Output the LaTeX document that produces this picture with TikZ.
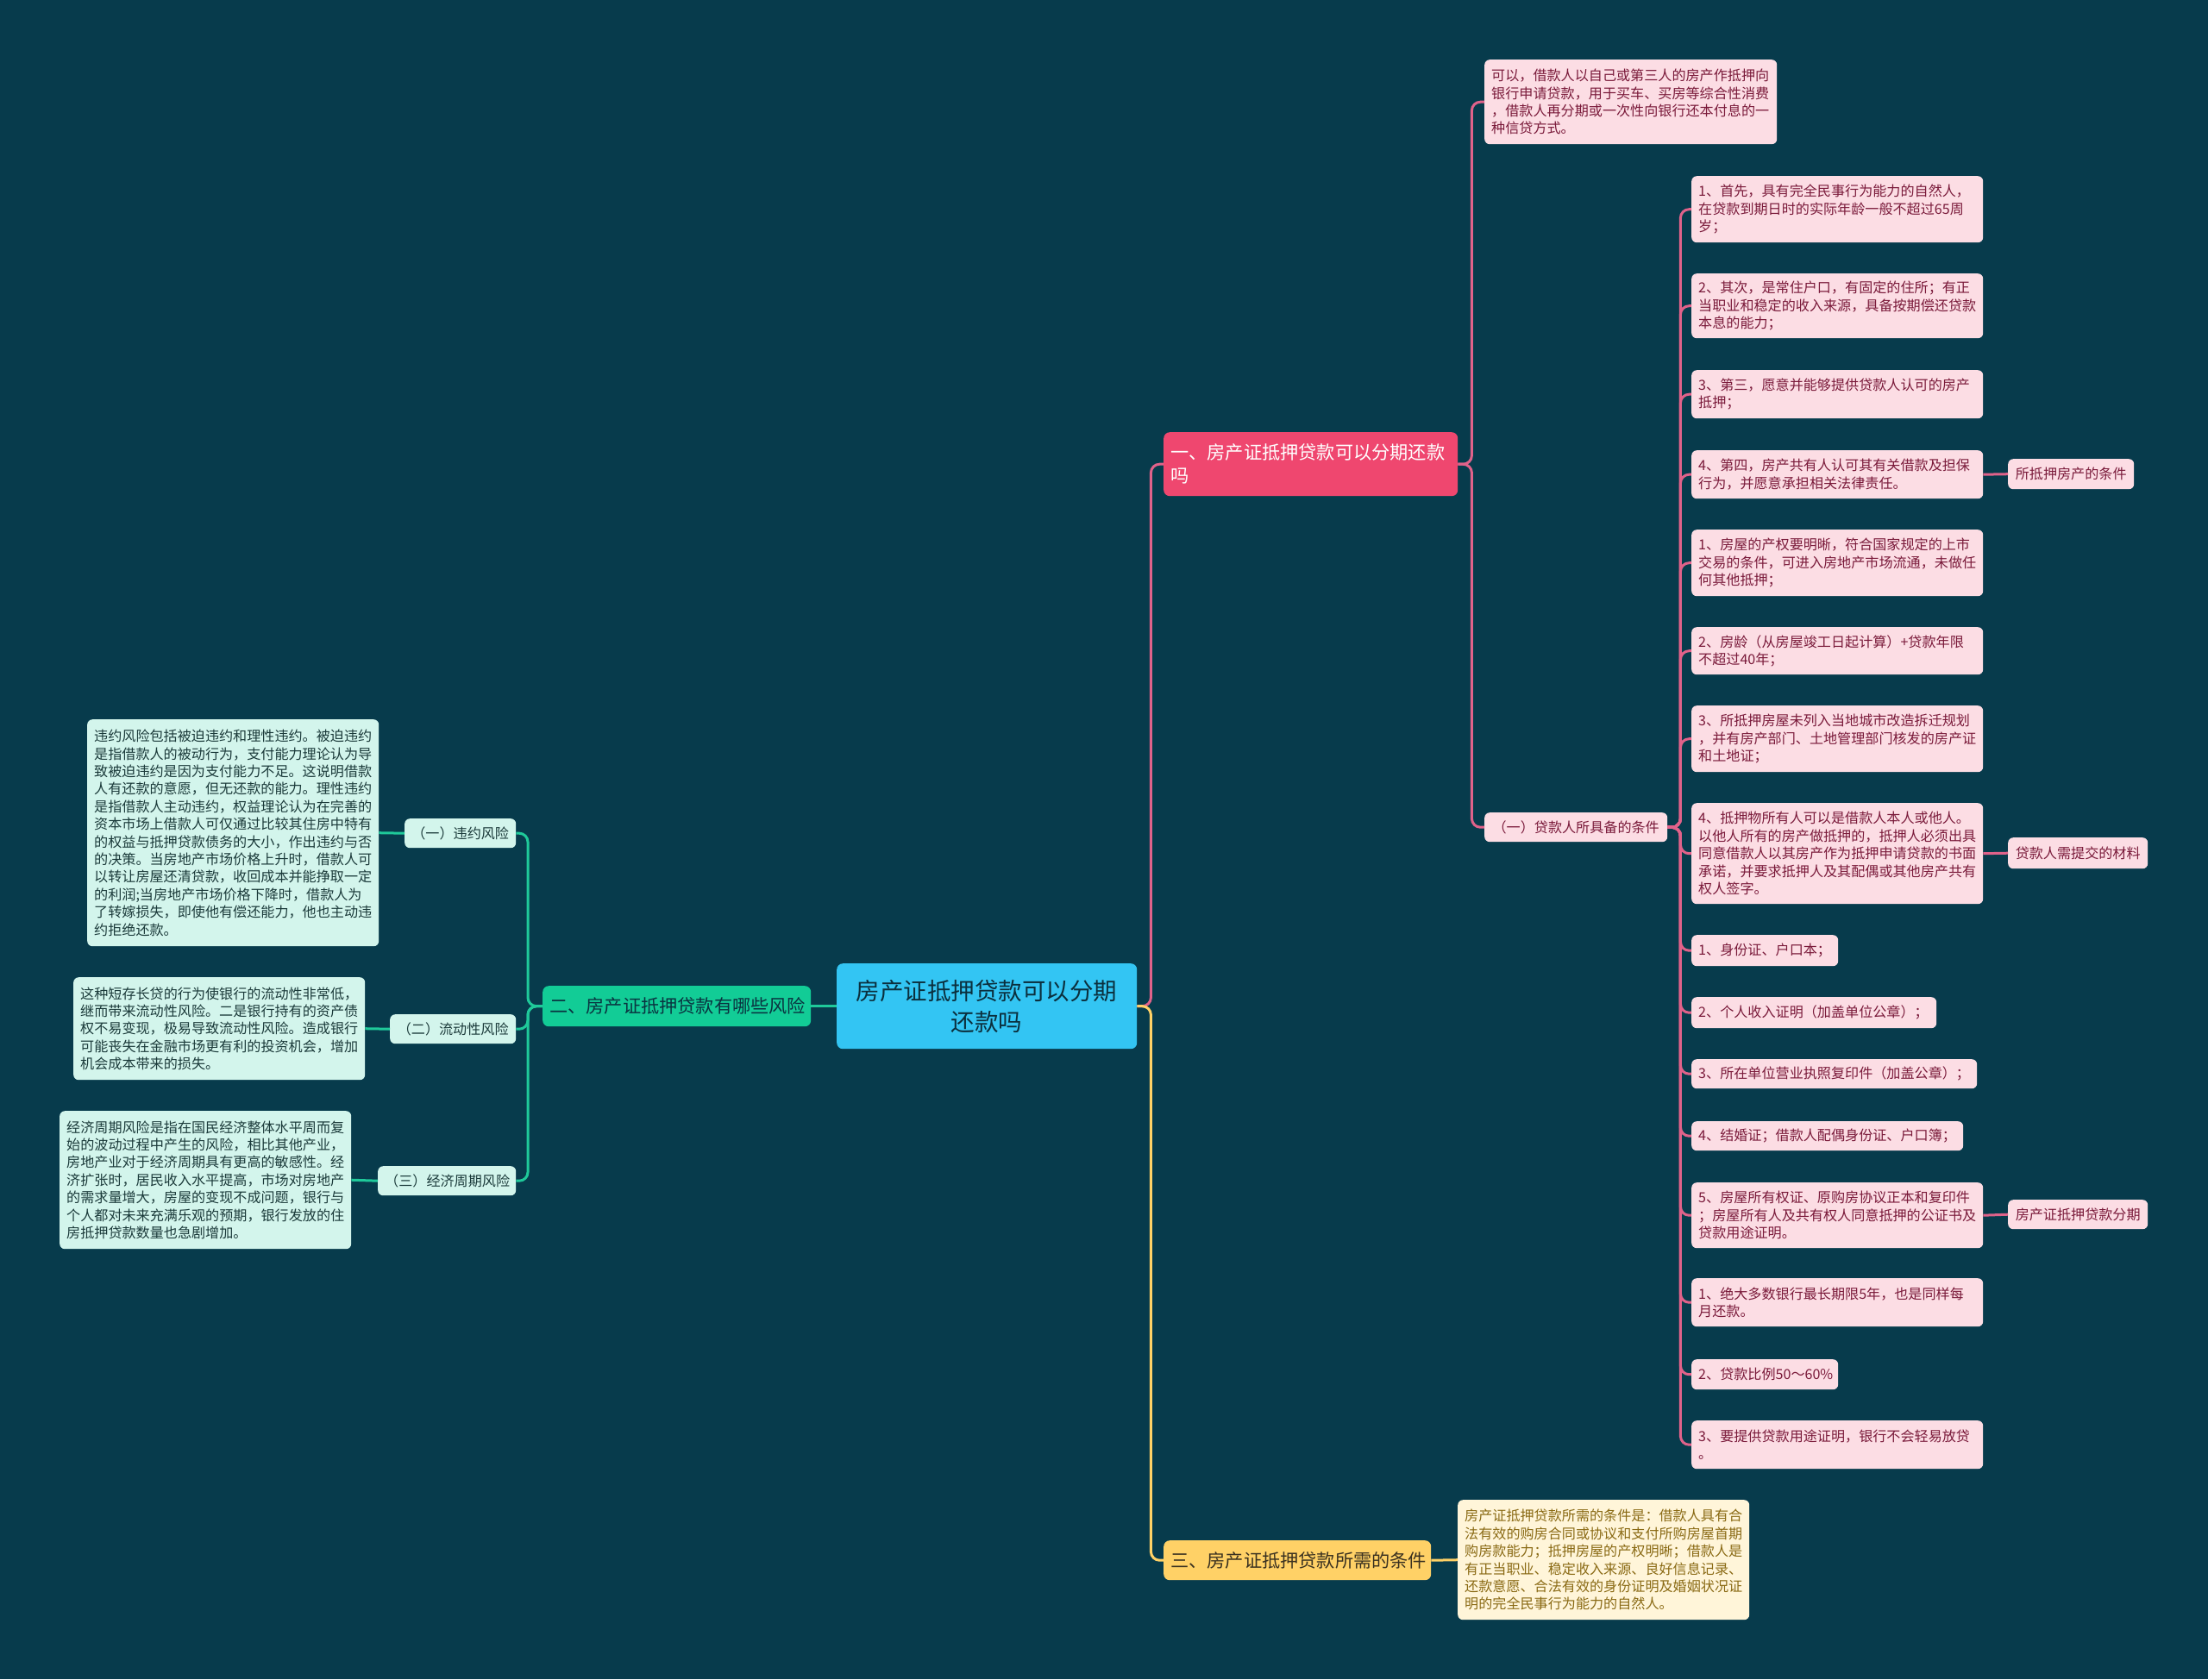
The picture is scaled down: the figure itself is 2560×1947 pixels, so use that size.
\documentclass[tikz,border=0pt]{standalone}
\usepackage{fontspec}
\setmainfont{Noto Sans CJK SC}
\definecolor{bg}{HTML}{073B4C}
\definecolor{centerfill}{HTML}{33C5F3}
\definecolor{centertext}{HTML}{0B2F3D}
\definecolor{redfill}{HTML}{EF476F}
\definecolor{greenfill}{HTML}{12CC96}
\definecolor{greentextdark}{HTML}{0A3340}
\definecolor{yellowfill}{HTML}{FFD166}
\definecolor{yellowtextdark}{HTML}{3A3120}
\definecolor{pinkfill}{HTML}{FCDDE4}
\definecolor{pinktext}{HTML}{7A1A3A}
\definecolor{mintfill}{HTML}{D3F5EC}
\definecolor{minttext}{HTML}{1B3A3A}
\definecolor{creamfill}{HTML}{FFF5D9}
\definecolor{creamtext}{HTML}{8A6A14}
\definecolor{pinkline}{HTML}{E0628A}
\definecolor{greenline}{HTML}{1FC99A}
\definecolor{yellowline}{HTML}{FFD166}
\tikzset{
  boxbase/.style={rounded corners=6pt, inner xsep=8pt, inner ysep=0pt, align=left,
    font=\fontsize{16.1}{20.4}\selectfont},
  pinkbox/.style={boxbase, fill=pinkfill, text=pinktext},
  pinklabel/.style={pinkbox, align=center},
  mintbox/.style={boxbase, fill=mintfill, text=minttext},
  mintlabel/.style={mintbox, align=center},
  creambox/.style={boxbase, fill=creamfill, text=creamtext},
  centerbox/.style={rounded corners=7pt, inner xsep=8pt, inner ysep=0pt, align=center,
    fill=centerfill, text=centertext, font=\fontsize{27.5}{36}\selectfont},
  branchbase/.style={rounded corners=7pt, inner xsep=8pt, inner ysep=0pt, align=left,
    font=\fontsize{21.2}{27}\selectfont},
  redbranch/.style={branchbase, fill=redfill, text=white},
  greenbranch/.style={branchbase, fill=greenfill, text=greentextdark},
  yellowbranch/.style={branchbase, fill=yellowfill, text=yellowtextdark},
  pinkconn/.style={draw=pinkline, line width=3pt, rounded corners=10pt},
  greenconn/.style={draw=greenline, line width=3pt, rounded corners=10pt},
  yellowconn/.style={draw=yellowline, line width=3pt, rounded corners=10pt},
}
\newcommand\mmbox[7]{%
  \pgfmathsetmacro\mmw{#5-#3-16}%
  \pgfmathsetmacro\mmh{#6-#4}%
  \node[#2, anchor=north west, text width=\mmw pt, minimum height=\mmh pt] (#1) at (#3,#4) {#7};%
}
\begin{document}
\begin{tikzpicture}[x=1pt,y=-1pt]
\fill[bg] (0,0) rectangle (2560,1947);
\useasboundingbox (0,0) rectangle (2560,1947);

% center and branches
\mmbox{c}{centerbox}{970}{1117}{1318}{1216}{房产证抵押贷款可以分期\\还款吗}
\mmbox{b1}{redbranch}{1349}{501}{1690}{575}{一、房产证抵押贷款可以分期还款\\吗}
\mmbox{b2}{greenbranch}{629}{1143}{940}{1190}{二、房产证抵押贷款有哪些风险}
\mmbox{b3}{yellowbranch}{1349}{1786}{1659}{1832}{三、房产证抵押贷款所需的条件}

% branch 1 children
\mmbox{top}{pinkbox}{1721}{69}{2060}{167}{可以，借款人以自己或第三人的房产作抵押向\\银行申请贷款，用于买车、买房等综合性消费\\，借款人再分期或一次性向银行还本付息的一\\种信贷方式。}
\mmbox{k}{pinklabel}{1721}{942}{1933}{976}{（一）贷款人所具备的条件}

\mmbox{p1}{pinkbox}{1961}{204}{2299}{281}{1、首先，具有完全民事行为能力的自然人，\\在贷款到期日时的实际年龄一般不超过65周\\岁；}
\mmbox{p2}{pinkbox}{1961}{317}{2299}{392}{2、其次，是常住户口，有固定的住所；有正\\当职业和稳定的收入来源，具备按期偿还贷款\\本息的能力；}
\mmbox{p3}{pinkbox}{1961}{429}{2299}{485}{3、第三，愿意并能够提供贷款人认可的房产\\抵押；}
\mmbox{p4}{pinkbox}{1961}{522}{2299}{578}{4、第四，房产共有人认可其有关借款及担保\\行为，并愿意承担相关法律责任。}
\mmbox{p5}{pinkbox}{1961}{614}{2299}{691}{1、房屋的产权要明晰，符合国家规定的上市\\交易的条件，可进入房地产市场流通，未做任\\何其他抵押；}
\mmbox{p6}{pinkbox}{1961}{727}{2299}{782}{2、房龄（从房屋竣工日起计算）+贷款年限\\不超过40年；}
\mmbox{p7}{pinkbox}{1961}{818}{2299}{895}{3、所抵押房屋未列入当地城市改造拆迁规划\\，并有房产部门、土地管理部门核发的房产证\\和土地证；}
\mmbox{p8}{pinkbox}{1961}{931}{2299}{1048}{4、抵押物所有人可以是借款人本人或他人。\\以他人所有的房产做抵押的，抵押人必须出具\\同意借款人以其房产作为抵押申请贷款的书面\\承诺，并要求抵押人及其配偶或其他房产共有\\权人签字。}
\mmbox{p9}{pinkbox}{1961}{1084}{2131}{1120}{1、身份证、户口本；}
\mmbox{p10}{pinkbox}{1961}{1156}{2245}{1192}{2、个人收入证明（加盖单位公章）；}
\mmbox{p11}{pinkbox}{1961}{1228}{2292}{1262}{3、所在单位营业执照复印件（加盖公章）；}
\mmbox{p12}{pinkbox}{1961}{1300}{2276}{1334}{4、结婚证；借款人配偶身份证、户口簿；}
\mmbox{p13}{pinkbox}{1961}{1371}{2299}{1447}{5、房屋所有权证、原购房协议正本和复印件\\；房屋所有人及共有权人同意抵押的公证书及\\贷款用途证明。}
\mmbox{p14}{pinkbox}{1961}{1482}{2299}{1538}{1、绝大多数银行最长期限5年，也是同样每\\月还款。}
\mmbox{p15}{pinkbox}{1961}{1576}{2131}{1611}{2、贷款比例50～60\%}
\mmbox{p16}{pinkbox}{1961}{1647}{2299}{1703}{3、要提供贷款用途证明，银行不会轻易放贷\\。}

\mmbox{s1}{pinklabel}{2328}{532}{2474}{567}{所抵押房产的条件}
\mmbox{s2}{pinklabel}{2328}{971}{2490}{1007}{贷款人需提交的材料}
\mmbox{s3}{pinklabel}{2328}{1391}{2490}{1425}{房产证抵押贷款分期}

% branch 2 children
\mmbox{g1}{mintlabel}{469}{949}{598}{983}{（一）违约风险}
\mmbox{g2}{mintlabel}{452}{1176}{598}{1210}{（二）流动性风险}
\mmbox{g3}{mintlabel}{438}{1352}{598}{1386}{（三）经济周期风险}
\mmbox{gt1}{mintbox}{101}{834}{439}{1097}{违约风险包括被迫违约和理性违约。被迫违约\\是指借款人的被动行为，支付能力理论认为导\\致被迫违约是因为支付能力不足。这说明借款\\人有还款的意愿，但无还款的能力。理性违约\\是指借款人主动违约，权益理论认为在完善的\\资本市场上借款人可仅通过比较其住房中特有\\的权益与抵押贷款债务的大小，作出违约与否\\的决策。当房地产市场价格上升时，借款人可\\以转让房屋还清贷款，收回成本并能挣取一定\\的利润;当房地产市场价格下降时，借款人为\\了转嫁损失，即使他有偿还能力，他也主动违\\约拒绝还款。}
\mmbox{gt2}{mintbox}{85}{1133}{423}{1252}{这种短存长贷的行为使银行的流动性非常低，\\继而带来流动性风险。二是银行持有的资产债\\权不易变现，极易导致流动性风险。造成银行\\可能丧失在金融市场更有利的投资机会，增加\\机会成本带来的损失。}
\mmbox{gt3}{mintbox}{69}{1288}{407}{1448}{经济周期风险是指在国民经济整体水平周而复\\始的波动过程中产生的风险，相比其他产业，\\房地产业对于经济周期具有更高的敏感性。经\\济扩张时，居民收入水平提高，市场对房地产\\的需求量增大，房屋的变现不成问题，银行与\\个人都对未来充满乐观的预期，银行发放的住\\房抵押贷款数量也急剧增加。}

% branch 3 child
\mmbox{yt}{creambox}{1690}{1739}{2028}{1878}{房产证抵押贷款所需的条件是：借款人具有合\\法有效的购房合同或协议和支付所购房屋首期\\购房款能力；抵押房屋的产权明晰；借款人是\\有正当职业、稳定收入来源、良好信息记录、\\还款意愿、合法有效的身份证明及婚姻状况证\\明的完全民事行为能力的自然人。}

% connectors
\path[pinkconn] (c.east) -- ++(16,0) |- (b1.west);
\path[yellowconn] (c.east) -- ++(16,0) |- (b3.west);
\path[greenconn] (c.west) -- (b2.east);

\path[pinkconn] (b1.east) -- ++(16,0) |- (top.west);
\path[pinkconn] (b1.east) -- ++(16,0) |- (k.west);

\foreach \n in {p1,p2,p3,p4,p5,p6,p7,p8,p9,p10,p11,p12,p13,p14,p15,p16}
  \path[pinkconn] (k.east) -- ++(15,0) |- (\n.west);
\path[pinkconn] (p4.east) -- (s1.west);
\path[pinkconn] (p8.east) -- (s2.west);
\path[pinkconn] (p13.east) -- (s3.west);

\foreach \n in {g1,g2,g3}
  \path[greenconn] (b2.west) -- ++(-17,0) |- (\n.east);
\path[greenconn] (g1.west) -- (gt1.east);
\path[greenconn] (g2.west) -- (gt2.east);
\path[greenconn] (g3.west) -- (gt3.east);

\path[yellowconn] (b3.east) -- (yt.west);
\end{tikzpicture}
\end{document}
